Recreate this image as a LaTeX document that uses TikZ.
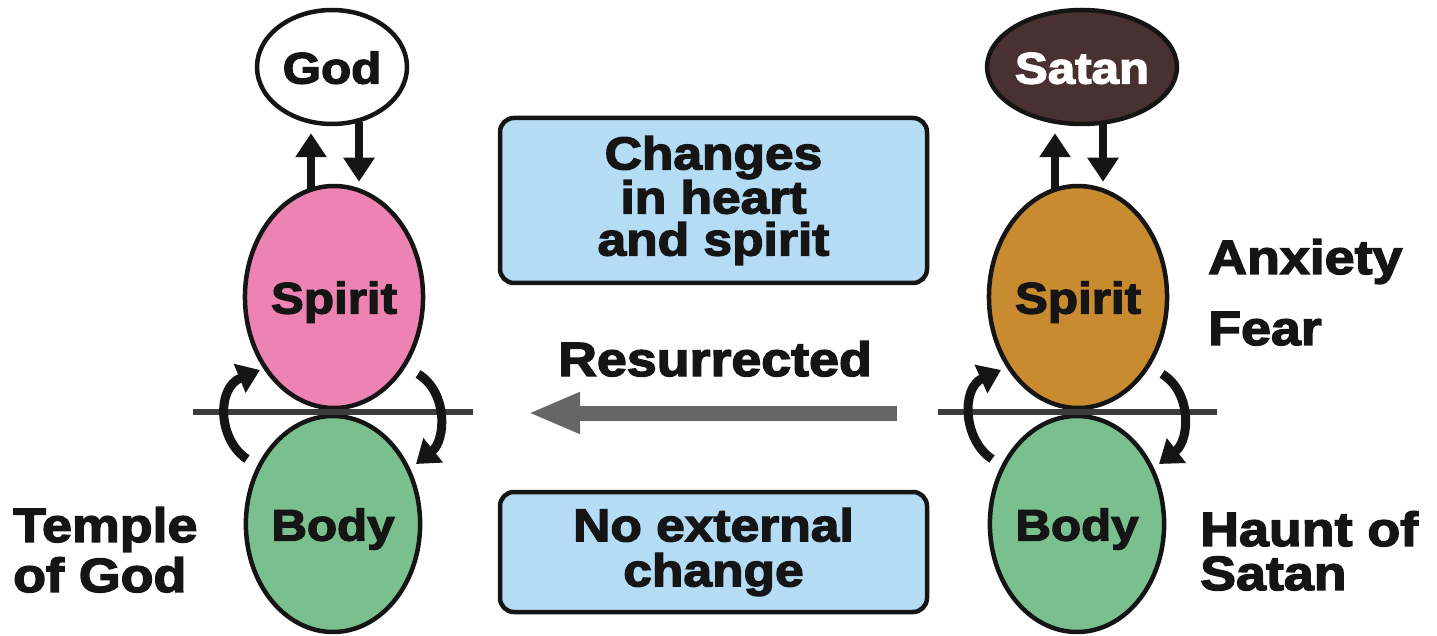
\documentclass[tikz,border=0pt]{standalone}
\usepackage{fontspec}
\newfontfamily\heavy[FakeStretch=1.12,FakeBold=3]{Liberation Sans Bold}
\usetikzlibrary{shapes.geometric,arrows.meta,calc,backgrounds}
\definecolor{ink}{HTML}{151515}
\definecolor{pinkS}{HTML}{EC83B3}
\definecolor{greenB}{HTML}{79C08E}
\definecolor{goldS}{HTML}{C98B2F}
\definecolor{satanC}{HTML}{4A3131}
\definecolor{boxC}{HTML}{B4DCF5}
\definecolor{grayA}{HTML}{666666}
\definecolor{lineC}{HTML}{3C3C3C}
\tikzset{
  oval/.style={ellipse,draw=ink,line width=4.5pt,inner sep=0pt,text=ink,
     text height=33pt,text depth=0pt,font=\heavy\fontsize{44}{48}\selectfont},
  infobox/.style={draw=ink,line width=4.5pt,rounded corners=14pt,fill=boxC,
     minimum width=427pt,align=center,inner sep=0pt,text=ink},
  lbl/.style={text=ink,inner sep=0pt,align=left,anchor=north west},
  vert/.style={ink,line width=8pt,-{Triangle[length=24pt,width=30pt]}},
  turn/.style={ink,line width=9pt,-{Triangle[length=22pt,width=30pt]}},
  divider/.style={lineC,line width=6pt}
}
\begin{document}
\begin{tikzpicture}[x=1pt,y=-1pt]
\useasboundingbox (0,0) rectangle (1437,636);
% left column
\node[oval,fill=white,minimum width=150pt,minimum height=114pt] (god) at (332,67) {God};
\node[oval,fill=pinkS,minimum width=170pt,minimum height=222pt] (spiritL) at (334,297) {Spirit};
\node[oval,fill=greenB,minimum width=168pt,minimum height=216pt] (bodyL) at (333,524) {Body};
% right column
\node[oval,fill=satanC,text=white,minimum width=150pt,minimum height=114pt] (satan) at (1082,67) {Satan};
\node[oval,fill=goldS,minimum width=164pt,minimum height=222pt] (spiritR) at (1078,297) {Spirit};
\node[oval,fill=greenB,minimum width=164pt,minimum height=216pt] (bodyR) at (1077,524) {Body};
% boxes
\node[infobox,minimum height=165pt,font=\heavy\fontsize{46}{42}\selectfont] (boxT) at (713.5,200.5) {Changes\\in heart\\and spirit};
\node[infobox,minimum height=120pt,font=\heavy\fontsize{46}{45}\selectfont] (boxB) at (713.5,552) {No external\\change};
\node[text=ink,inner sep=0pt,anchor=base,font=\heavy\fontsize{48}{50}\selectfont] (res) at (715,376) {Resurrected};
% side labels
\node[lbl,font=\heavy\fontsize{48}{50}\selectfont] (temple) at (13,507) {Temple\\of God};
\node[lbl,font=\heavy\fontsize{48}{71}\selectfont] (anx) at (1208,239) {Anxiety\\Fear};
\node[lbl,font=\heavy\fontsize{48}{44}\selectfont] (haunt) at (1200,511) {Haunt of\\Satan};
% connectors
\begin{scope}[on background layer]
\draw[vert] ($(spiritL.north)+(-23,10)$) -- ($(god.south)+(-21,7)$);
\draw[vert] ($(god.south)+(27,-4)$) -- ($(spiritL.north)+(25,-2)$);
\draw[vert] ($(spiritR.north)+(-23,10)$) -- ($(satan.south)+(-27,7)$);
\draw[vert] ($(satan.south)+(21,-4)$) -- ($(spiritR.north)+(25,-2)$);
\end{scope}
\coordinate (lineLa) at (193,412);
\coordinate (lineLb) at (473,412);
\coordinate (lineRa) at (938,412);
\coordinate (lineRb) at (1217,412);
\draw[divider] (lineLa) -- (lineLb);
\draw[divider] (lineRa) -- (lineRb);
% turning arrows left
\coordinate (tLa) at (247,459);
\coordinate (tLb) at (260,370);
\draw[turn] (tLa) .. controls (218,440) and (216,388) .. (tLb);
\coordinate (tLc) at (418,374);
\coordinate (tLd) at (416,464);
\draw[turn] (tLc) .. controls (448,392) and (446,440) .. (tLd);
% turning arrows right
\coordinate (tRa) at (992,459);
\coordinate (tRb) at (1001,370);
\draw[turn] (tRa) .. controls (963,440) and (961,388) .. (tRb);
\coordinate (tRc) at (1162,374);
\coordinate (tRd) at (1159,464);
\draw[turn] (tRc) .. controls (1192,392) and (1190,440) .. (tRd);
% resurrected arrow
\coordinate (resA) at (897,413);
\coordinate (resB) at (528,413);
\draw[grayA,line width=15pt,-{Triangle[length=52pt,width=38pt]}] (resA) -- (resB);
\end{tikzpicture}
\end{document}
